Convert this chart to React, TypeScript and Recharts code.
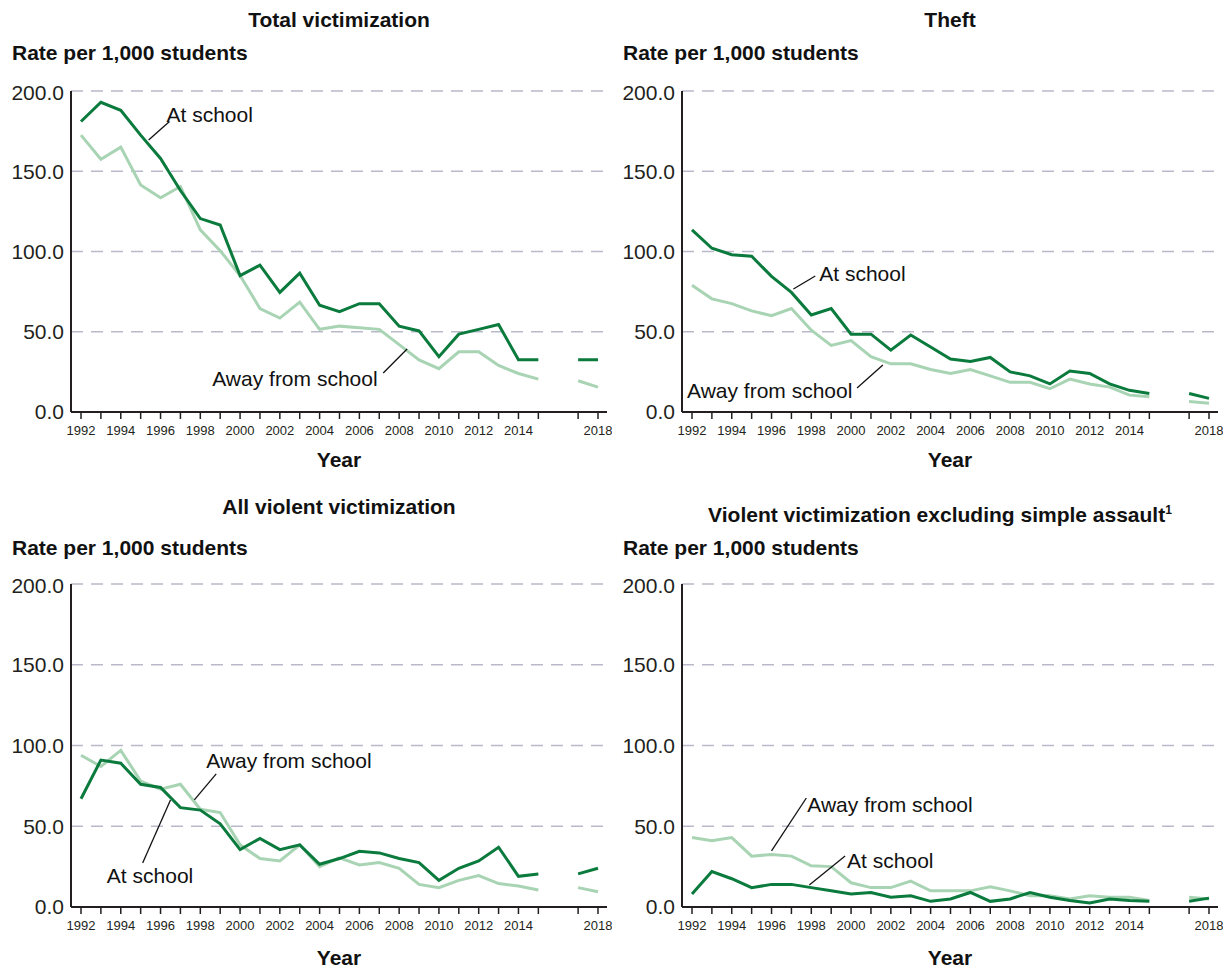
import React from 'react'
import { LineChart, Line, XAxis, YAxis, CartesianGrid, ReferenceLine, ReferenceDot } from 'recharts'

// 2016 has no estimate, so both series break there
const years = [1992, 1993, 1994, 1995, 1996, 1997, 1998, 1999, 2000, 2001, 2002, 2003, 2004, 2005, 2006, 2007, 2008, 2009, 2010, 2011, 2012, 2013, 2014, 2015, 2016, 2017, 2018]
const xTicks = [1992, 1993, 1994, 1995, 1996, 1997, 1998, 1999, 2000, 2001, 2002, 2003, 2004, 2005, 2006, 2007, 2008, 2009, 2010, 2011, 2012, 2013, 2014, 2015, 2017, 2018]
const labeledYears = [1992, 1994, 1996, 1998, 2000, 2002, 2004, 2006, 2008, 2010, 2012, 2014, 2018]
const yTicks = [0, 50, 100, 150, 200]

const totalAtSchool = [181, 193, 188, 172.5, 158, 138, 120.5, 116.5, 85, 91.5, 74.5, 86.5, 66.5, 62.5, 67.5, 67.5, 53.5, 50.5, 34.5, 48.5, 51.5, 54.5, 32.5, 32.5, null, 32.5, 32.5]
const totalAway = [172.5, 157.5, 165, 141.5, 133.5, 140.5, 113.5, 100.5, 85, 64.5, 58.5, 68.5, 51.5, 53.5, 52.5, 51.5, 42, 32.5, 27, 37.5, 37.5, 29, 24, 20.5, null, 19.5, 15.5]

const theftAtSchool = [113.5, 102, 98, 97, 84.5, 74.5, 60.5, 64.5, 48.5, 48.5, 38.5, 48, 40.5, 33, 31.5, 34, 25, 22.5, 17.5, 25.5, 24, 17.5, 13.5, 11.5, null, 11.5, 8.5]
const theftAway = [79, 70.5, 67.5, 63, 60, 64.5, 51, 41.5, 44.5, 34.5, 30, 30, 26.5, 24, 26.5, 22.5, 18.5, 18.5, 14.5, 20.5, 17.5, 15.5, 10.5, 9.5, null, 6.5, 5.5]

const violentAtSchool = [67, 91, 89, 76, 74, 61.5, 60, 51.5, 35.5, 42.5, 35.5, 38.5, 26.5, 30, 34.5, 33.5, 30, 27.5, 16.5, 24, 28.5, 37, 19, 20.5, null, 20.5, 24]
const violentAway = [94, 87, 97, 78, 73, 76, 60.5, 58.5, 38.5, 30, 28.5, 38.5, 25, 30.5, 26, 27.5, 24, 14, 12, 16.5, 19.5, 14.5, 13, 10.5, null, 12, 9.5]

const seriousAtSchool = [8, 22, 17.5, 12, 14, 14, 12, 10, 8, 9, 6, 7, 3.5, 5, 9, 3.5, 5, 9, 6, 4, 2.5, 5, 4, 3.5, null, 3.5, 5.5]
const seriousAway = [43, 41, 43, 31.5, 32.5, 31.5, 25.5, 25, 15, 12, 12, 16, 10, 10, 10, 12.5, 10, 7, 7, 5, 7, 6, 6, 4, null, 6, 5]

const DARK = '#0a7a3d'
const LIGHT = '#a8d4b4'
const INK = '#231f20'
const GRID = '#b9b9c9'
const FONT = '"Liberation Sans", Arial, Helvetica, sans-serif'

const buildRows = (atSchool: (number | null)[], away: (number | null)[]) =>
  years.map((year, i) => ({ year, atSchool: atSchool[i], away: away[i] }))

interface Note {
  text: string
  x: number
  y: number
  from: [number, number]
  to: [number, number]
}

interface PanelProps {
  left: number
  top: number
  plotH: number
  rows: { year: number; atSchool: number | null; away: number | null }[]
  notes: Note[]
}

const W = 612

function Panel({ left, top, plotH, rows, notes }: PanelProps) {
  const marginTop = 11
  const axisH = 30
  const marginBottom = 38
  return (
    <div style={{ position: 'absolute', left, top }}>
      <LineChart
        width={W}
        height={marginTop + plotH + axisH + marginBottom}
        data={rows}
        margin={{ top: marginTop, right: 5, bottom: marginBottom, left: 0 }}
      >
        <CartesianGrid vertical={false} stroke={GRID} strokeWidth={1.5} strokeDasharray="12 8" />
        <XAxis
          dataKey="year"
          type="number"
          domain={[1992, 2018]}
          ticks={xTicks}
          interval={0}
          height={axisH}
          padding={{ left: 10, right: 9 }}
          tickSize={7}
          tickMargin={7}
          tickFormatter={(v: number) => (labeledYears.includes(v) ? String(v) : '')}
          tick={{ fontSize: 13, fill: INK, fontFamily: FONT }}
          axisLine={{ stroke: INK, strokeWidth: 2 }}
          tickLine={{ stroke: INK, strokeWidth: 1.5 }}
        />
        <YAxis
          domain={[0, 200]}
          ticks={yTicks}
          width={71}
          tickSize={0}
          tickMargin={7}
          tickFormatter={(v: number) => v.toFixed(1)}
          tick={{ fontSize: 21, fill: INK, fontFamily: FONT }}
          axisLine={{ stroke: INK, strokeWidth: 2 }}
          tickLine={false}
        />
        <Line type="linear" dataKey="away" stroke={LIGHT} strokeWidth={3} dot={false} isAnimationActive={false} connectNulls={false} />
        <Line type="linear" dataKey="atSchool" stroke={DARK} strokeWidth={3} dot={false} isAnimationActive={false} connectNulls={false} />
        {notes.map((n, i) => [
          <ReferenceLine
            key={`l${i}`}
            segment={[{ x: n.from[0], y: n.from[1] }, { x: n.to[0], y: n.to[1] }]}
            stroke="#111"
            strokeWidth={1.3}
            ifOverflow="visible"
          />,
          <ReferenceDot
            key={`t${i}`}
            x={n.x}
            y={n.y}
            ifOverflow="visible"
            shape={(p: any) => (
              <text x={p.cx} y={p.cy} dominantBaseline="central" fontSize={21} fill="#111" fontFamily={FONT}>
                {n.text}
              </text>
            )}
          />,
        ])}
      </LineChart>
    </div>
  )
}

const centered: React.CSSProperties = {
  position: 'absolute',
  transform: 'translate(-50%, -50%)',
  fontWeight: 'bold',
  fontSize: 21,
  color: '#111',
  whiteSpace: 'nowrap',
  fontFamily: FONT,
}

const rateStyle: React.CSSProperties = {
  position: 'absolute',
  transform: 'translateY(-50%)',
  fontWeight: 'bold',
  fontSize: 21,
  color: '#111',
  whiteSpace: 'nowrap',
  fontFamily: FONT,
}

export default function App() {
  return (
    <div style={{ position: 'absolute', left: 0, top: 0, width: 1227, height: 969, background: '#fff', fontFamily: FONT }}>
      <div style={{ ...centered, left: 339, top: 20 }}>Total victimization</div>
      <div style={{ ...rateStyle, left: 12, top: 53 }}>Rate per 1,000 students</div>
      <Panel
        left={0}
        top={80}
        plotH={321}
        rows={buildRows(totalAtSchool, totalAway)}
        notes={[
          { text: 'At school', x: 1996.3, y: 185.5, from: [1995.4, 169.5], to: [1996.45, 181] },
          { text: 'Away from school', x: 1998.6, y: 20.6, from: [2007.2, 24.3], to: [2008.4, 39.3] },
        ]}
      />
      <div style={{ ...centered, left: 339, top: 460 }}>Year</div>

      <div style={{ ...centered, left: 950, top: 20 }}>Theft</div>
      <div style={{ ...rateStyle, left: 623, top: 53 }}>Rate per 1,000 students</div>
      <Panel
        left={611}
        top={80}
        plotH={321}
        rows={buildRows(theftAtSchool, theftAway)}
        notes={[
          { text: 'At school', x: 1998.4, y: 86, from: [1997.1, 76.6], to: [1998.2, 84.7] },
          { text: 'Away from school', x: 1991.75, y: 13.7, from: [2000.3, 15], to: [2001.6, 29.3] },
        ]}
      />
      <div style={{ ...centered, left: 950, top: 460 }}>Year</div>

      <div style={{ ...centered, left: 339, top: 507 }}>All violent victimization</div>
      <div style={{ ...rateStyle, left: 12, top: 548 }}>Rate per 1,000 students</div>
      <Panel
        left={0}
        top={573}
        plotH={323}
        rows={buildRows(violentAtSchool, violentAway)}
        notes={[
          { text: 'Away from school', x: 1998.3, y: 91, from: [1997.7, 66.3], to: [1998.8, 82.4] },
          { text: 'At school', x: 1993.3, y: 19.8, from: [1995.1, 27.2], to: [1996.5, 66.3] },
        ]}
      />
      <div style={{ ...centered, left: 339, top: 958 }}>Year</div>

      <div style={{ ...centered, left: 940, top: 515 }}>
        Violent victimization excluding simple assault<sup style={{ fontSize: 12 }}>1</sup>
      </div>
      <div style={{ ...rateStyle, left: 623, top: 548 }}>Rate per 1,000 students</div>
      <Panel
        left={611}
        top={573}
        plotH={323}
        rows={buildRows(seriousAtSchool, seriousAway)}
        notes={[
          { text: 'Away from school', x: 1997.8, y: 63.2, from: [1996.0, 34.7], to: [1997.75, 67.5] },
          { text: 'At school', x: 1999.8, y: 29.1, from: [1997.9, 13.6], to: [1999.7, 31.6] },
        ]}
      />
      <div style={{ ...centered, left: 950, top: 958 }}>Year</div>
    </div>
  )
}
